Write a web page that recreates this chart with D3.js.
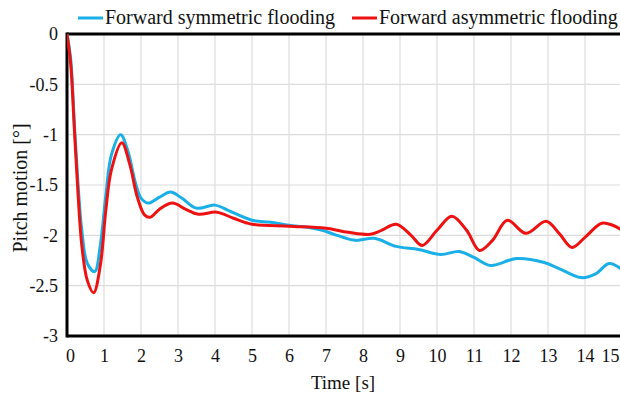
<!DOCTYPE html>
<html><head><meta charset="utf-8">
<script src="https://cdn.jsdelivr.net/npm/d3@7"></script>
<style>
html,body{margin:0;padding:0;background:#fff;}
svg text{font-family:"Liberation Serif","Times New Roman",serif;fill:#111;}
</style></head>
<body>
<svg id="c" width="620" height="393"></svg>
<script>
const seriesNames = ["Forward symmetric flooding", "Forward asymmetric flooding"];
const seriesColors = ["#1AAFE6", "#EE1111"];
const xTicks = [0,1,2,3,4,5,6,7,8,9,10,11,12,13,14,15];
const yTicks = [0,-0.5,-1,-1.5,-2,-2.5,-3];
const symmetricT = [0,0.1,0.2,0.3,0.4,0.55,0.75,0.9,1.05,1.2,1.45,1.65,1.85,2.0,2.2,2.5,2.8,3.1,3.5,4.0,4.4,5.0,5.5,6.0,6.5,6.9,7.3,7.8,8.3,8.9,9.5,10.1,10.6,11.0,11.45,12.15,12.9,13.3,13.9,14.3,14.65,15];
const symmetricV = [0,-0.25,-0.9,-1.5,-1.95,-2.28,-2.36,-2.1,-1.6,-1.2,-1.0,-1.17,-1.48,-1.63,-1.68,-1.62,-1.57,-1.63,-1.73,-1.70,-1.76,-1.85,-1.87,-1.9,-1.92,-1.95,-2.0,-2.05,-2.03,-2.11,-2.14,-2.19,-2.16,-2.22,-2.30,-2.23,-2.27,-2.33,-2.42,-2.38,-2.28,-2.34];
const asymmetricT = [0,0.1,0.2,0.3,0.4,0.55,0.72,0.9,1.05,1.2,1.48,1.7,1.9,2.1,2.25,2.5,2.85,3.2,3.55,4.05,4.5,5.0,6.0,7.0,7.6,8.2,8.5,8.9,9.3,9.6,10.0,10.4,10.8,11.15,11.5,11.9,12.4,12.95,13.3,13.65,14.0,14.45,14.75,15];
const asymmetricV = [0,-0.3,-0.95,-1.6,-2.1,-2.45,-2.57,-2.3,-1.75,-1.35,-1.08,-1.3,-1.62,-1.8,-1.82,-1.74,-1.68,-1.74,-1.79,-1.77,-1.83,-1.89,-1.91,-1.93,-1.97,-1.99,-1.95,-1.89,-2.0,-2.1,-1.95,-1.81,-1.95,-2.15,-2.05,-1.85,-1.98,-1.86,-1.98,-2.12,-2.02,-1.88,-1.9,-1.95];

const FONT = "Liberation Serif";
const svg = d3.select("#c");
const x = d3.scaleLinear().domain([0,15]).range([67,622]);
const y = d3.scaleLinear().domain([0,-3]).range([34,336]);

// grid
const g = svg.append("g");
g.selectAll("line.v").data(xTicks.filter(d=>d>0)).join("line")
  .attr("x1",d=>x(d)).attr("x2",d=>x(d)).attr("y1",y(0)).attr("y2",y(-3))
  .attr("stroke","#dcdcdc").attr("stroke-width",1.2);
g.selectAll("line.h").data(yTicks.filter(d=>d<0 && d>-3)).join("line")
  .attr("x1",x(0)).attr("x2",620).attr("y1",d=>y(d)).attr("y2",d=>y(d))
  .attr("stroke","#dcdcdc").attr("stroke-width",1.2);

// axes frame
svg.append("line").attr("x1",x(0)).attr("x2",620).attr("y1",y(0)).attr("y2",y(0)).attr("stroke","#000").attr("stroke-width",3);
svg.append("line").attr("x1",x(0)).attr("x2",620).attr("y1",y(-3)).attr("y2",y(-3)).attr("stroke","#000").attr("stroke-width",3);
svg.append("line").attr("x1",x(0)).attr("x2",x(0)).attr("y1",y(0)-1.5).attr("y2",y(-3)+1.5).attr("stroke","#000").attr("stroke-width",3);

// tick labels
const yAxis = d3.axisLeft(y).tickValues(yTicks).tickSize(0).tickPadding(9).tickFormat(d=>String(d));
const ya = svg.append("g").attr("transform",`translate(${x(0)},0)`).call(yAxis)
  .attr("font-family",FONT).attr("font-size",18);
ya.select(".domain").remove();
ya.selectAll("text").attr("font-family",FONT).attr("font-size",18).attr("fill","#111");
const xAxis = d3.axisBottom(x).tickValues(xTicks).tickSize(0).tickPadding(13).tickFormat(d=>String(d));
const xa = svg.append("g").attr("transform",`translate(0,${y(-3)})`).call(xAxis)
  .attr("font-family",FONT).attr("font-size",18);
xa.select(".domain").remove();
xa.selectAll("text").attr("font-family",FONT).attr("font-size",18).attr("fill","#111");
xa.selectAll(".tick").filter(d=>d===0).select("text").attr("dx",3);
xa.selectAll(".tick").filter(d=>d===15).select("text").attr("dx",-12);

// titles
svg.append("text").attr("x",343).attr("y",389).attr("text-anchor","middle").attr("font-size",19).text("Time [s]");
svg.append("text").attr("transform","translate(27,188) rotate(-90)").attr("text-anchor","middle").attr("font-size",20).text("Pitch motion [°]");

// lines
svg.append("clipPath").attr("id","clip").append("rect").attr("x",x(0)).attr("y",0).attr("width",620-x(0)).attr("height",393);
const line = d3.line().x(d=>x(d[0])).y(d=>y(d[1])).curve(d3.curveCatmullRom.alpha(0.5));
const data = [d3.zip(symmetricT, symmetricV), d3.zip(asymmetricT, asymmetricV)];
svg.append("g").attr("clip-path","url(#clip)").selectAll("path").data(data).join("path")
  .attr("d",line).attr("fill","none").attr("stroke",(d,i)=>seriesColors[i]).attr("stroke-width",3)
  .attr("stroke-linejoin","round");

// legend
const legX = [78, 352];
const lg = svg.append("g");
seriesNames.forEach((n,i)=>{
  lg.append("line").attr("x1",legX[i]).attr("x2",legX[i]+25).attr("y1",18).attr("y2",18).attr("stroke",seriesColors[i]).attr("stroke-width",3);
  lg.append("text").attr("x",legX[i]+27).attr("y",24).attr("font-size",20).text(n);
});
</script>
</body></html>
